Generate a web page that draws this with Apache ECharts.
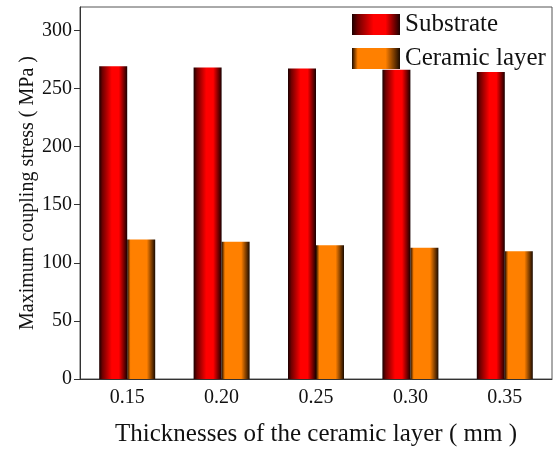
<!DOCTYPE html>
<html>
<head>
<meta charset="utf-8">
<script src="https://cdn.jsdelivr.net/npm/echarts@6/dist/echarts.min.js"></script>
<style>
  html, body { margin: 0; padding: 0; background: #fff; }
  #chart { width: 555px; height: 452px; }
</style>
</head>
<body>
<div id="chart"></div>
<script>
// Ceramic layer thickness (mm)
const thicknesses = ['0.15', '0.20', '0.25', '0.30', '0.35'];
// Maximum coupling stress (MPa)
const substrateStress = [269, 268, 267, 266, 264];
const ceramicStress = [120, 118, 115, 113, 110];
const yTicks = { min: 0, max: 320, interval: 50 };

const FONT = '"Liberation Serif", "Times New Roman", serif';

// Horizontal shading that gives the bars a cylindrical look
function shade(dark, mid, edge) {
  return {
    type: 'linear', x: 0, y: 0, x2: 1, y2: 0,
    colorStops: [
      { offset: 0, color: dark },
      { offset: 0.12, color: edge },
      { offset: 0.45, color: mid },
      { offset: 0.7, color: mid },
      { offset: 1, color: dark }
    ]
  };
}

const chart = echarts.init(document.getElementById('chart'), null, { renderer: 'canvas' });
chart.setOption({
  animation: false,
  backgroundColor: '#fff',
  textStyle: { fontFamily: FONT, color: '#111' },
  grid: {
    left: 80, right: 3, top: 7, bottom: 72,
    show: true, borderColor: '#555', borderWidth: 1
  },
  legend: {
    left: 352, top: 12,
    padding: 0,
    orient: 'vertical',
    icon: 'rect',
    itemWidth: 48, itemHeight: 21, itemGap: 9,
    textStyle: { fontFamily: FONT, fontSize: 25, color: '#111' },
    data: ['Substrate', 'Ceramic layer']
  },
  xAxis: {
    type: 'category',
    data: thicknesses,
    name: 'Thicknesses of the ceramic layer ( mm )',
    nameLocation: 'middle',
    nameGap: 43,
    nameMoveOverlap: false,
    nameTextStyle: { fontFamily: FONT, fontSize: 25, color: '#111' },
    axisLine: { lineStyle: { color: '#333', width: 1 } },
    axisTick: { show: false },
    axisLabel: { fontFamily: FONT, fontSize: 20, color: '#111', margin: 9 }
  },
  yAxis: {
    type: 'value',
    min: yTicks.min, max: yTicks.max, interval: yTicks.interval,
    name: 'Maximum coupling stress ( MPa )',
    nameLocation: 'middle',
    nameGap: 42,
    nameMoveOverlap: false,
    nameTextStyle: { fontFamily: FONT, fontSize: 20, color: '#111' },
    axisLine: { show: true, lineStyle: { color: '#333', width: 1 } },
    axisTick: { show: true, length: 6, inside: false, lineStyle: { color: '#333' } },
    axisLabel: { fontFamily: FONT, fontSize: 20, color: '#111', margin: 8,
      showMaxLabel: false },
    splitLine: { show: false }
  },
  series: [
    {
      name: 'Substrate',
      type: 'bar',
      data: substrateStress,
      barWidth: 28,
      barGap: '0%',
      itemStyle: { color: shade('#1a0000', '#ff0000', '#700000') }
    },
    {
      name: 'Ceramic layer',
      type: 'bar',
      data: ceramicStress,
      barWidth: 28,
      barGap: '0%',
      itemStyle: { color: shade('#1a0a00', '#ff8000', '#ff8000') }
    }
  ]
});
</script>
</body>
</html>
